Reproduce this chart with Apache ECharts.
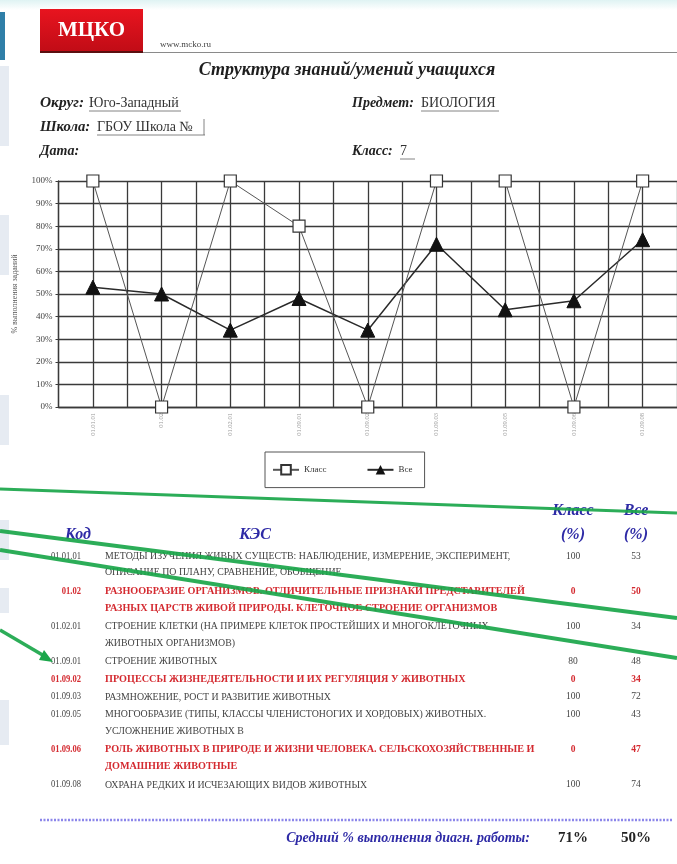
<!DOCTYPE html>
<html><head><meta charset="utf-8">
<script src="https://cdn.jsdelivr.net/npm/echarts@6/dist/echarts.min.js"></script>
<style>html,body{margin:0;padding:0;background:#fff}#c{width:677px;height:864px}</style>
</head><body><div id="c"></div>
<script>
// ---- data ----
const categories = ['01.01.01','01.02','01.02.01','01.09.01','01.09.02','01.09.03','01.09.05','01.09.06','01.09.08'];
const klassValues = [100, 0, 100, 80, 0, 100, 100, 0, 100];
const vseValues   = [53, 50, 34, 48, 34, 72, 43, 47, 74];
const seriesNames = ['Класс', 'Все'];
const kesTexts = [
  ['МЕТОДЫ ИЗУЧЕНИЯ ЖИВЫХ СУЩЕСТВ: НАБЛЮДЕНИЕ, ИЗМЕРЕНИЕ, ЭКСПЕРИМЕНТ,', 'ОПИСАНИЕ ПО ПЛАНУ, СРАВНЕНИЕ, ОБОБЩЕНИЕ'],
  ['РАЗНООБРАЗИЕ ОРГАНИЗМОВ. ОТЛИЧИТЕЛЬНЫЕ ПРИЗНАКИ ПРЕДСТАВИТЕЛЕЙ', 'РАЗНЫХ ЦАРСТВ ЖИВОЙ ПРИРОДЫ. КЛЕТОЧНОЕ СТРОЕНИЕ ОРГАНИЗМОВ'],
  ['СТРОЕНИЕ КЛЕТКИ (НА ПРИМЕРЕ КЛЕТОК ПРОСТЕЙШИХ И МНОГОКЛЕТОЧНЫХ', 'ЖИВОТНЫХ ОРГАНИЗМОВ)'],
  ['СТРОЕНИЕ ЖИВОТНЫХ'],
  ['ПРОЦЕССЫ ЖИЗНЕДЕЯТЕЛЬНОСТИ И ИХ РЕГУЛЯЦИЯ У ЖИВОТНЫХ'],
  ['РАЗМНОЖЕНИЕ, РОСТ И РАЗВИТИЕ ЖИВОТНЫХ'],
  ['МНОГООБРАЗИЕ (ТИПЫ, КЛАССЫ ЧЛЕНИСТОНОГИХ И ХОРДОВЫХ) ЖИВОТНЫХ.', 'УСЛОЖНЕНИЕ ЖИВОТНЫХ В'],
  ['РОЛЬ ЖИВОТНЫХ В ПРИРОДЕ И ЖИЗНИ ЧЕЛОВЕКА. СЕЛЬСКОХОЗЯЙСТВЕННЫЕ И', 'ДОМАШНИЕ ЖИВОТНЫЕ'],
  ['ОХРАНА РЕДКИХ И ИСЧЕЗАЮЩИХ ВИДОВ ЖИВОТНЫХ']
];
const avgKlass = 71;
const avgVse = 50;
const headerInfo = { okrug: 'Юго-Западный', shkola: 'ГБОУ Школа №', predmet: 'БИОЛОГИЯ', klass: '7' };

// ---- build ----
const SERIF = '"Liberation Serif", "DejaVu Serif", serif';
const BLUE = '#2e2aa6';
const RED = '#d42a30';
const GRAY = '#444444';
const g = [];
function txt(x, y, text, font, fill, align, extra) {
  g.push(Object.assign({ type: 'text', x: x, y: y, silent: true, z: 10,
    style: { text: text, font: font, fill: fill, align: align || 'left', verticalAlign: 'middle' } }, extra || {}));
}
function line(x1, y1, x2, y2, stroke, w, extra) {
  g.push(Object.assign({ type: 'line', silent: true, z: 10, shape: { x1: x1, y1: y1, x2: x2, y2: y2 },
    style: Object.assign({ stroke: stroke, lineWidth: w }, (extra && extra.style) || {}) }));
}

// top tint & left UI strips
g.push({ type: 'rect', silent: true, z: 1, shape: { x: 0, y: 0, width: 677, height: 10 },
  style: { fill: new echarts.graphic.LinearGradient(0, 0, 0, 1, [{ offset: 0, color: '#dff3f3' }, { offset: 1, color: '#ffffff' }]) } });
g.push({ type: 'rect', silent: true, z: 1, shape: { x: 0, y: 12, width: 5, height: 48 }, style: { fill: '#2f7fa8' } });
[[66, 80], [215, 60], [395, 50], [520, 40], [588, 25], [700, 45]].forEach(function (r) {
  g.push({ type: 'rect', silent: true, z: 1, shape: { x: 0, y: r[0], width: 9, height: r[1] }, style: { fill: '#e6ebf2' } });
});

// logo
g.push({ type: 'rect', silent: true, z: 5, shape: { x: 40, y: 9, width: 103, height: 43 },
  style: { fill: new echarts.graphic.LinearGradient(0, 0, 0, 1, [{ offset: 0, color: '#e8141f' }, { offset: 1, color: '#c00c16' }]) } });
line(40, 52, 143, 52, '#5a1010', 2);
txt(91.5, 31, 'МЦКО', 'bold 21px ' + SERIF, '#ffffff', 'center');
txt(160, 45, 'www.mcko.ru', '9px ' + SERIF, '#444', 'left');
line(143, 52.5, 677, 52.5, '#8a8a8a', 1);

// title
txt(347, 70, 'Структура знаний/умений учащихся', 'italic bold 18px ' + SERIF, '#1e1e1e', 'center');

// header fields
const LF = 'italic bold 14px ' + SERIF;
const VF = '14px ' + SERIF;
txt(40, 103, 'Округ:', LF, '#222', 'left', { scaleX: 1.1 });
txt(89, 103, headerInfo.okrug, VF, '#333');
line(89, 111, 181, 111, '#666', 0.8);
txt(40, 127, 'Школа:', LF, '#222', 'left', { scaleX: 1.05 });
txt(97, 127, headerInfo.shkola, VF, '#333');
line(97, 135, 205, 135, '#666', 0.8);
line(204, 119, 204, 135, '#666', 0.8);
txt(40, 151, 'Дата:', LF, '#222');
txt(352, 103, 'Предмет:', LF, '#222');
txt(421, 103, headerInfo.predmet, VF, '#333');
line(421, 111, 499, 111, '#666', 0.8);
txt(352, 151, 'Класс:', LF, '#222');
txt(400, 151, headerInfo.klass, VF, '#333');
line(400, 159, 415, 159, '#666', 0.8);

// table header
const HF = 'italic bold 16px ' + SERIF;
const colK = 573, colV = 636;
txt(78, 535, 'Код', HF, BLUE, 'center');
txt(255, 535, 'КЭС', HF, BLUE, 'center');
txt(colK, 511, seriesNames[0], HF, BLUE, 'center');
txt(colK, 535, '(%)', HF, BLUE, 'center');
txt(colV, 511, seriesNames[1], HF, BLUE, 'center');
txt(colV, 535, '(%)', HF, BLUE, 'center');

// table rows
let lineIdx = 0;
categories.forEach(function (code, i) {
  const red = klassValues[i] === 0;
  const col = red ? RED : GRAY;
  const f = (red ? 'bold ' : '') + '11px ' + SERIF;
  const fs = (red ? 'bold ' : '') + '9.5px ' + SERIF;
  const y0 = 556 + lineIdx * 17.6;
  txt(81, y0, code, fs, col, 'right', { scaleX: 0.9 });
  kesTexts[i].forEach(function (t, j) {
    txt(105, y0 + j * 16.5, t, f, col, 'left', { scaleX: red ? 0.925 : 0.895 });
  });
  txt(colK, y0, String(klassValues[i]), fs, col, 'center');
  txt(colV, y0, String(vseValues[i]), fs, col, 'center');
  lineIdx += kesTexts[i].length;
});

// dotted separator + footer
line(40, 820, 672, 820, '#8c86ea', 2.5, { style: { lineDash: [2, 1.5] } });
txt(530, 838, 'Средний % выполнения диагн. работы:', 'italic bold 14px ' + SERIF, BLUE, 'right');
txt(colK, 838, avgKlass + '%', 'bold 15px ' + SERIF, '#222', 'center');
txt(colV, 838, avgVse + '%', 'bold 15px ' + SERIF, '#222', 'center');

// green annotation strokes
const GREEN = '#1aa64a';
[[0, 489, 677, 513, 3], [0, 531, 677, 618, 4], [0, 550, 677, 658, 4], [0, 630, 46, 657, 3.5]].forEach(function (l) {
  g.push({ type: 'line', silent: true, z: 50, shape: { x1: l[0], y1: l[1], x2: l[2], y2: l[3] },
    style: { stroke: GREEN, lineWidth: l[4], opacity: 0.92 } });
});
g.push({ type: 'polygon', silent: true, z: 50, shape: { points: [[53, 662], [39, 660], [44, 650]] }, style: { fill: GREEN } });

// ---- chart ----
const chart = echarts.init(document.getElementById('c'), null, { renderer: 'canvas' });
const GRID = '#3a3a3a';
chart.setOption({
  backgroundColor: '#ffffff',
  animation: false,
  grid: { left: 58.5, top: 181, width: 621, height: 226, containLabel: false },
  legend: {
    data: seriesNames, left: 265, top: 452,
    padding: [12, 12, 12, 7], itemGap: 40, itemWidth: 26, itemHeight: 12,
    borderColor: '#555', borderWidth: 1,
    textStyle: { fontFamily: SERIF, fontSize: 9, color: '#333' }
  },
  xAxis: [
    {
      type: 'category', data: categories, boundaryGap: true,
      axisLine: { show: true, lineStyle: { color: GRID, width: 1.3 } },
      axisTick: { show: false },
      splitLine: { show: false },
      axisLabel: { rotate: 90, fontSize: 6.5, color: '#999', fontFamily: SERIF, margin: 6, interval: 0 }
    },
    {
      type: 'category', data: categories.concat(categories).map(function () { return ''; }), boundaryGap: true,
      position: 'bottom', axisLine: { show: false }, axisTick: { show: false }, axisLabel: { show: false },
      splitLine: { show: true, lineStyle: { color: GRID, width: 1.3 } }
    }
  ],
  yAxis: {
    type: 'value', min: 0, max: 100, interval: 10,
    name: '% выполнения заданий', nameLocation: 'middle', nameRotate: 90, nameGap: 40,
    nameTextStyle: { fontFamily: SERIF, fontSize: 8, color: '#555' },
    axisLine: { show: true, lineStyle: { color: GRID, width: 1.3 } },
    axisTick: { show: true, length: 3, lineStyle: { color: GRID } },
    splitLine: { show: true, lineStyle: { color: GRID, width: 1.3 } },
    axisLabel: { formatter: '{value}%', fontFamily: SERIF, fontSize: 9, color: '#444', margin: 6 }
  },
  series: [
    {
      name: seriesNames[1], type: 'line', data: vseValues, z: 3,
      symbol: 'triangle', symbolSize: 14,
      lineStyle: { color: '#2a2a2a', width: 1.5 },
      itemStyle: { color: '#111', borderColor: '#111' }
    },
    {
      name: seriesNames[0], type: 'line', data: klassValues, z: 4,
      symbol: 'rect', symbolSize: 12,
      lineStyle: { color: '#555', width: 1 },
      itemStyle: { color: '#ffffff', borderColor: '#333', borderWidth: 1.2 }
    }
  ],
  graphic: { elements: g }
});
</script></body></html>
